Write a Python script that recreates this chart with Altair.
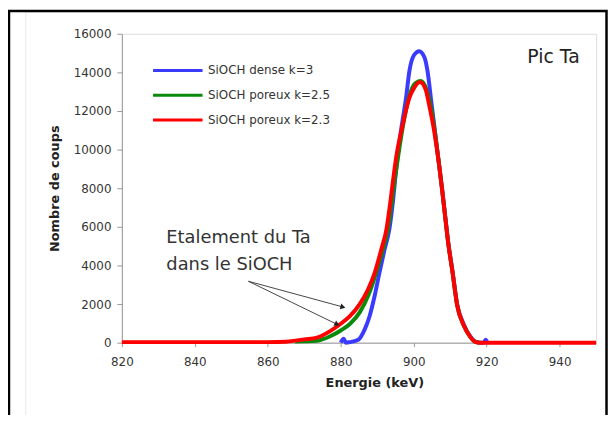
import altair as alt
import pandas as pd

# ---- data ----
series_names = ["SiOCH dense k=3", "SiOCH poreux k=2.5", "SiOCH poreux k=2.3"]
series_colors = ["#3b3bff", "#0a8a0a", "#ff0000"]

blue_e = [880, 880.8, 881.4, 882.5, 884.8, 886.6, 887.9, 889.3, 890.6, 892, 893.3, 894.3,
          895.2, 896.5, 897.9, 898.8, 900.1, 901.5, 902.9, 903.8, 904.7, 905.6, 906.9, 907.8,
          908.7, 909.5, 910.6, 911.9, 913.7, 915.5, 916.9, 918.5, 919.2, 919.7, 920.2]
blue_v = [0, 200, 0, 30, 150, 700, 1370, 2430, 3620, 4820, 5850, 7300,
          9000, 10970, 12680, 14050, 14900, 15100, 14800, 14050, 12680, 11300, 9300, 7950,
          6450, 5150, 3750, 2000, 950, 330, 60, 0, 0, 150, 0]

green_e = [867.5, 870, 873.5, 877.1, 880, 882.5, 885.2, 887.5, 889.7, 891.6, 892.9, 894.7,
           896, 897.5, 899, 900.5, 902, 903.5, 905, 906.9, 907.8, 908.7, 909.5, 910.6,
           911.9, 913.7, 915.5, 916.9, 918]
green_v = [60, 70, 100, 330, 630, 970, 1570, 2430, 3620, 4850, 5850, 8300,
           10000, 11700, 12900, 13450, 13550, 13100, 11900, 9300, 7900, 6400, 5100, 3700,
           1950, 900, 300, 40, 0]

red_e = [820, 840, 860, 865, 868, 870, 873.5, 877.1, 880, 882.5, 885.2, 887.5, 889.3,
         891.1, 892.5, 893.4, 894.2, 895.2, 897, 898.8, 900.1, 901.7, 903.3, 904.2, 905.6,
         906.9, 907.8, 908.7, 909.5, 910.6, 911.9, 913.7, 915.5, 916.9, 918, 930, 950]
red_v = [30, 30, 30, 50, 120, 170, 260, 600, 980, 1370, 2000, 2770, 3620,
         4820, 5850, 7000, 8200, 9600, 11300, 12680, 13200, 13500, 13100, 12340, 10970,
         9300, 7900, 6400, 5100, 3700, 1950, 900, 300, 40, 0, 0, 0]

x_ticks = [820, 840, 860, 880, 900, 920, 940]
y_ticks = [0, 2000, 4000, 6000, 8000, 10000, 12000, 14000, 16000]

annot_text = ["Etalement du Ta", "dans le SiOCH"]
annot_x = [832.2, 832.2]
annot_y = [5400, 4000]

arrow_x0 = [854.7, 854.7]
arrow_y0 = [3180, 3180]
arrow_x1 = [880.6, 879.0]
arrow_y1 = [1850, 950]
arrow_angle = [15, 26]

FONT = "DejaVu Sans"
W, H = 479, 312

xscale = alt.Scale(domain=[820, 950], nice=False, zero=False)
yscale = alt.Scale(domain=[0, 16000], nice=False)
cscale = alt.Scale(domain=series_names, range=series_colors)

legend = alt.Legend(
    title=None, orient="none", legendX=30, legendY=27, padding=0,
    symbolType="stroke", symbolSize=2500, symbolStrokeWidth=3,
    clipHeight=20, rowPadding=5, labelFont=FONT, labelFontSize=12,
    labelColor="#333333", labelOffset=4,
)

xaxis = alt.Axis(
    values=x_ticks, title="Energie (keV)", grid=False, tickSize=4, labelPadding=10,
    labelFlush=False, labelOverlap=False,
    labelFont=FONT, labelFontSize=12, labelColor="#333333",
    domainColor="#999999", tickColor="#999999",
    titleFont=FONT, titleFontSize=13, titleFontWeight="bold", titleColor="#222222",
    titleX=255, titleY=40, titleBaseline="middle", titleAlign="center",
)
yaxis = alt.Axis(
    values=y_ticks, format="d", title="Nombre de coups", grid=False, tickSize=5,
    labelPadding=6, labelFlush=False, labelOverlap=False,
    labelFont=FONT, labelFontSize=12, labelColor="#333333",
    domainColor="#999999", tickColor="#999999",
    titleFont=FONT, titleFontSize=13, titleFontWeight="bold", titleColor="#222222",
    titleX=-68, titleY=156, titleBaseline="middle", titleAlign="center", titleAngle=270,
)


def X(field):
    return alt.X(field, scale=xscale, axis=xaxis)


def Y(field):
    return alt.Y(field, scale=yscale, axis=yaxis)


def series_layer(es, vs, name):
    df = pd.DataFrame({"E": es, "N": vs, "serie": name})
    return alt.Chart(df).mark_line(strokeWidth=4, interpolate="monotone").encode(
        x=X("E:Q"), y=Y("N:Q"),
        color=alt.Color("serie:N", scale=cscale, legend=legend),
    )


one = pd.DataFrame({"a": [0]})
frame = alt.Chart(one).mark_rect(fillOpacity=0, stroke="#000000", strokeWidth=2.5).encode(
    x=alt.value(-114), x2=alt.value(489.5), y=alt.value(-23), y2=alt.value(420)
)
inner = alt.Chart(one).mark_rect(fillOpacity=0, stroke="#e8e8e8", strokeWidth=1).encode(
    x=alt.value(-97), x2=alt.value(500), y=alt.value(-22), y2=alt.value(420)
)

blue = series_layer(blue_e, blue_v, series_names[0])
green = series_layer(green_e, green_v, series_names[1])
red = series_layer(red_e, red_v, series_names[2])

pic = alt.Chart(one).mark_text(
    text="Pic Ta", font=FONT, fontSize=19, color="#222222", align="center", baseline="middle"
).encode(x=alt.value(436), y=alt.value(24))

annot_df = pd.DataFrame({"t": annot_text, "x": annot_x, "y": annot_y})
annot = alt.Chart(annot_df).mark_text(
    font=FONT, fontSize=18, color="#333333", align="left", baseline="middle"
).encode(x=X("x:Q"), y=Y("y:Q"), text="t:N")

arrow_df = pd.DataFrame({"x0": arrow_x0, "y0": arrow_y0, "x1": arrow_x1, "y1": arrow_y1,
                         "ang": arrow_angle})
arrow_lines = alt.Chart(arrow_df).mark_rule(color="#444444", strokeWidth=1).encode(
    x=X("x0:Q"), y=Y("y0:Q"), x2="x1:Q", y2="y1:Q"
)
arrow_heads = alt.Chart(arrow_df).mark_point(
    shape="triangle-right", filled=True, color="#222222", size=35, opacity=1
).encode(
    x=X("x1:Q"), y=Y("y1:Q"),
    angle=alt.Angle("ang:Q", scale=None),
)

chart = alt.layer(
    inner, frame, blue, green, red, annot, arrow_lines, arrow_heads, pic
).properties(
    width=W, height=H,
    autosize=alt.AutoSizeParams(type="none"),
    padding={"left": 115, "top": 24, "right": 12, "bottom": 71},
).configure_view(
    stroke="#b5b5b5", strokeWidth=1.2
).configure(
    font=FONT
)

chart.save("out.html", embed_options={"renderer": "svg", "actions": False})
